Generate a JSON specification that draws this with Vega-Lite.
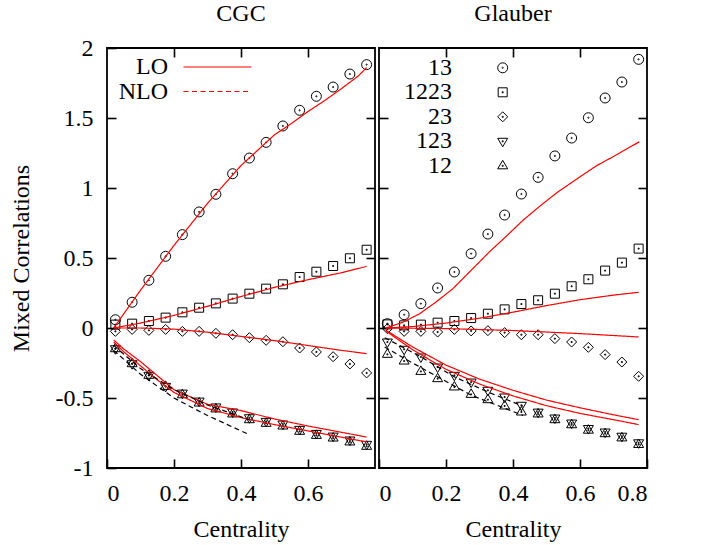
{
  "$schema": "https://vega.github.io/schema/vega-lite/v6.json",
  "background": "white",
  "padding": {"left": 8, "top": 1, "right": 5, "bottom": 0},
  "spacing": 0,
  "config": {
    "font": "Liberation Serif",
    "view": {"stroke": "black", "strokeWidth": 1.8},
    "axis": {
      "grid": false, "domain": false, "ticks": true, "tickColor": "black", "tickOpacity": 1, "tickWidth": 1.6, "tickSize": 9, "zindex": 1,
      "labelFont": "Liberation Serif", "labelFontSize": 24, "labelColor": "black",
      "titleFont": "Liberation Serif", "titleFontSize": 24, "titleFontWeight": "normal", "titleColor": "black"
    },
    "legend": {"labelFont": "Liberation Serif", "labelFontSize": 24, "labelColor": "black"},
    "title": {"font": "Liberation Serif", "fontSize": 24, "fontWeight": "normal", "color": "black"}
  },
  "datasets": {
    "cgcP": [
      {"x":0.025,"y":0.059,"s":"13"},{"x":0.075,"y":0.184,"s":"13"},{"x":0.125,"y":0.341,"s":"13"},{"x":0.175,"y":0.512,"s":"13"},
      {"x":0.225,"y":0.667,"s":"13"},{"x":0.275,"y":0.829,"s":"13"},{"x":0.325,"y":0.955,"s":"13"},{"x":0.375,"y":1.102,"s":"13"},
      {"x":0.425,"y":1.214,"s":"13"},{"x":0.475,"y":1.326,"s":"13"},{"x":0.525,"y":1.443,"s":"13"},{"x":0.575,"y":1.555,"s":"13"},
      {"x":0.625,"y":1.655,"s":"13"},{"x":0.675,"y":1.721,"s":"13"},{"x":0.725,"y":1.814,"s":"13"},{"x":0.775,"y":1.881,"s":"13"},
      {"x":0.025,"y":0.024,"s":"1223"},{"x":0.075,"y":0.031,"s":"1223"},{"x":0.125,"y":0.05,"s":"1223"},{"x":0.175,"y":0.074,"s":"1223"},
      {"x":0.225,"y":0.112,"s":"1223"},{"x":0.275,"y":0.145,"s":"1223"},{"x":0.325,"y":0.176,"s":"1223"},{"x":0.375,"y":0.21,"s":"1223"},
      {"x":0.425,"y":0.245,"s":"1223"},{"x":0.475,"y":0.281,"s":"1223"},{"x":0.525,"y":0.312,"s":"1223"},{"x":0.575,"y":0.364,"s":"1223"},
      {"x":0.625,"y":0.402,"s":"1223"},{"x":0.675,"y":0.443,"s":"1223"},{"x":0.725,"y":0.498,"s":"1223"},{"x":0.775,"y":0.559,"s":"1223"},
      {"x":0.025,"y":-0.024,"s":"23"},{"x":0.075,"y":-0.01,"s":"23"},{"x":0.125,"y":-0.017,"s":"23"},{"x":0.175,"y":-0.01,"s":"23"},
      {"x":0.225,"y":-0.024,"s":"23"},{"x":0.275,"y":-0.024,"s":"23"},{"x":0.325,"y":-0.038,"s":"23"},{"x":0.375,"y":-0.048,"s":"23"},
      {"x":0.425,"y":-0.069,"s":"23"},{"x":0.475,"y":-0.088,"s":"23"},{"x":0.525,"y":-0.098,"s":"23"},{"x":0.575,"y":-0.143,"s":"23"},
      {"x":0.625,"y":-0.171,"s":"23"},{"x":0.675,"y":-0.205,"s":"23"},{"x":0.725,"y":-0.257,"s":"23"},{"x":0.775,"y":-0.321,"s":"23"},
      {"x":0.025,"y":-0.148,"s":"123"},{"x":0.075,"y":-0.255,"s":"123"},{"x":0.125,"y":-0.338,"s":"123"},{"x":0.175,"y":-0.417,"s":"123"},
      {"x":0.225,"y":-0.465,"s":"123"},{"x":0.275,"y":-0.522,"s":"123"},{"x":0.325,"y":-0.564,"s":"123"},{"x":0.375,"y":-0.6,"s":"123"},
      {"x":0.425,"y":-0.641,"s":"123"},{"x":0.475,"y":-0.667,"s":"123"},{"x":0.525,"y":-0.686,"s":"123"},{"x":0.575,"y":-0.724,"s":"123"},
      {"x":0.625,"y":-0.753,"s":"123"},{"x":0.675,"y":-0.772,"s":"123"},{"x":0.725,"y":-0.8,"s":"123"},{"x":0.775,"y":-0.831,"s":"123"},
      {"x":0.025,"y":-0.148,"s":"12"},{"x":0.075,"y":-0.255,"s":"12"},{"x":0.125,"y":-0.338,"s":"12"},{"x":0.175,"y":-0.417,"s":"12"},
      {"x":0.225,"y":-0.477,"s":"12"},{"x":0.275,"y":-0.536,"s":"12"},{"x":0.325,"y":-0.578,"s":"12"},{"x":0.375,"y":-0.614,"s":"12"},
      {"x":0.425,"y":-0.655,"s":"12"},{"x":0.475,"y":-0.681,"s":"12"},{"x":0.525,"y":-0.7,"s":"12"},{"x":0.575,"y":-0.738,"s":"12"},
      {"x":0.625,"y":-0.767,"s":"12"},{"x":0.675,"y":-0.786,"s":"12"},{"x":0.725,"y":-0.814,"s":"12"},{"x":0.775,"y":-0.845,"s":"12"}
    ],
    "cgcL": [
      {"x":0.02,"y":0,"s":"13","o":"LO"},{"x":0.1,"y":0.27,"s":"13","o":"LO"},{"x":0.2,"y":0.59,"s":"13","o":"LO"},{"x":0.3,"y":0.89,"s":"13","o":"LO"},
      {"x":0.4,"y":1.16,"s":"13","o":"LO"},{"x":0.5,"y":1.38,"s":"13","o":"LO"},{"x":0.55,"y":1.46,"s":"13","o":"LO"},{"x":0.6,"y":1.546,"s":"13","o":"LO"},
      {"x":0.65,"y":1.625,"s":"13","o":"LO"},{"x":0.7,"y":1.71,"s":"13","o":"LO"},{"x":0.75,"y":1.8,"s":"13","o":"LO"},{"x":0.775,"y":1.86,"s":"13","o":"LO"},
      {"x":0.02,"y":0,"s":"1223","o":"LO"},{"x":0.1,"y":0.035,"s":"1223","o":"LO"},{"x":0.2,"y":0.09,"s":"1223","o":"LO"},{"x":0.3,"y":0.155,"s":"1223","o":"LO"},
      {"x":0.4,"y":0.225,"s":"1223","o":"LO"},{"x":0.5,"y":0.29,"s":"1223","o":"LO"},{"x":0.6,"y":0.345,"s":"1223","o":"LO"},{"x":0.7,"y":0.395,"s":"1223","o":"LO"},
      {"x":0.775,"y":0.44,"s":"1223","o":"LO"},
      {"x":0.02,"y":0,"s":"23","o":"LO"},{"x":0.1,"y":0,"s":"23","o":"LO"},{"x":0.2,"y":-0.008,"s":"23","o":"LO"},{"x":0.3,"y":-0.03,"s":"23","o":"LO"},
      {"x":0.4,"y":-0.06,"s":"23","o":"LO"},{"x":0.5,"y":-0.09,"s":"23","o":"LO"},{"x":0.6,"y":-0.125,"s":"23","o":"LO"},{"x":0.7,"y":-0.16,"s":"23","o":"LO"},
      {"x":0.775,"y":-0.183,"s":"23","o":"LO"},
      {"x":0.02,"y":-0.085,"s":"123","o":"LO"},{"x":0.05,"y":-0.15,"s":"123","o":"LO"},{"x":0.1,"y":-0.24,"s":"123","o":"LO"},{"x":0.15,"y":-0.34,"s":"123","o":"LO"},
      {"x":0.2,"y":-0.44,"s":"123","o":"LO"},{"x":0.3,"y":-0.545,"s":"123","o":"LO"},{"x":0.4,"y":-0.59,"s":"123","o":"LO"},{"x":0.5,"y":-0.65,"s":"123","o":"LO"},
      {"x":0.6,"y":-0.7,"s":"123","o":"LO"},{"x":0.7,"y":-0.745,"s":"123","o":"LO"},{"x":0.775,"y":-0.779,"s":"123","o":"LO"},
      {"x":0.02,"y":-0.1,"s":"12","o":"LO"},{"x":0.05,"y":-0.17,"s":"12","o":"LO"},{"x":0.1,"y":-0.27,"s":"12","o":"LO"},{"x":0.15,"y":-0.37,"s":"12","o":"LO"},
      {"x":0.2,"y":-0.46,"s":"12","o":"LO"},{"x":0.3,"y":-0.575,"s":"12","o":"LO"},{"x":0.4,"y":-0.64,"s":"12","o":"LO"},{"x":0.5,"y":-0.69,"s":"12","o":"LO"},
      {"x":0.6,"y":-0.735,"s":"12","o":"LO"},{"x":0.7,"y":-0.78,"s":"12","o":"LO"},{"x":0.775,"y":-0.814,"s":"12","o":"LO"},
      {"x":0.02,"y":-0.124,"s":"123","o":"NLO"},{"x":0.1,"y":-0.29,"s":"123","o":"NLO"},{"x":0.2,"y":-0.44,"s":"123","o":"NLO"},{"x":0.3,"y":-0.55,"s":"123","o":"NLO"},
      {"x":0.425,"y":-0.655,"s":"123","o":"NLO"},
      {"x":0.02,"y":-0.16,"s":"12","o":"NLO"},{"x":0.1,"y":-0.33,"s":"12","o":"NLO"},{"x":0.2,"y":-0.5,"s":"12","o":"NLO"},{"x":0.3,"y":-0.625,"s":"12","o":"NLO"},
      {"x":0.425,"y":-0.762,"s":"12","o":"NLO"}
    ],
    "glaP": [
      {"x":0.025,"y":0.031,"s":"13"},{"x":0.075,"y":0.095,"s":"13"},{"x":0.125,"y":0.174,"s":"13"},{"x":0.175,"y":0.286,"s":"13"},
      {"x":0.225,"y":0.4,"s":"13"},{"x":0.275,"y":0.531,"s":"13"},{"x":0.325,"y":0.671,"s":"13"},{"x":0.375,"y":0.807,"s":"13"},
      {"x":0.425,"y":0.957,"s":"13"},{"x":0.475,"y":1.076,"s":"13"},{"x":0.525,"y":1.229,"s":"13"},{"x":0.575,"y":1.357,"s":"13"},
      {"x":0.625,"y":1.502,"s":"13"},{"x":0.675,"y":1.643,"s":"13"},{"x":0.725,"y":1.757,"s":"13"},{"x":0.775,"y":1.919,"s":"13"},
      {"x":0.025,"y":0.026,"s":"1223"},{"x":0.075,"y":0.019,"s":"1223"},{"x":0.125,"y":0.024,"s":"1223"},{"x":0.175,"y":0.038,"s":"1223"},
      {"x":0.225,"y":0.05,"s":"1223"},{"x":0.275,"y":0.071,"s":"1223"},{"x":0.325,"y":0.102,"s":"1223"},{"x":0.375,"y":0.133,"s":"1223"},
      {"x":0.425,"y":0.171,"s":"1223"},{"x":0.475,"y":0.198,"s":"1223"},{"x":0.525,"y":0.245,"s":"1223"},{"x":0.575,"y":0.298,"s":"1223"},
      {"x":0.625,"y":0.348,"s":"1223"},{"x":0.675,"y":0.41,"s":"1223"},{"x":0.725,"y":0.467,"s":"1223"},{"x":0.775,"y":0.567,"s":"1223"},
      {"x":0.025,"y":-0.005,"s":"23"},{"x":0.075,"y":-0.024,"s":"23"},{"x":0.125,"y":-0.024,"s":"23"},{"x":0.175,"y":-0.029,"s":"23"},
      {"x":0.225,"y":-0.01,"s":"23"},{"x":0.275,"y":-0.021,"s":"23"},{"x":0.325,"y":-0.019,"s":"23"},{"x":0.375,"y":-0.033,"s":"23"},
      {"x":0.425,"y":-0.048,"s":"23"},{"x":0.475,"y":-0.048,"s":"23"},{"x":0.525,"y":-0.076,"s":"23"},{"x":0.575,"y":-0.1,"s":"23"},
      {"x":0.625,"y":-0.138,"s":"23"},{"x":0.675,"y":-0.19,"s":"23"},{"x":0.725,"y":-0.243,"s":"23"},{"x":0.775,"y":-0.345,"s":"23"},
      {"x":0.025,"y":-0.1,"s":"123"},{"x":0.075,"y":-0.152,"s":"123"},{"x":0.125,"y":-0.207,"s":"123"},{"x":0.175,"y":-0.279,"s":"123"},
      {"x":0.225,"y":-0.338,"s":"123"},{"x":0.275,"y":-0.386,"s":"123"},{"x":0.325,"y":-0.445,"s":"123"},{"x":0.375,"y":-0.493,"s":"123"},
      {"x":0.425,"y":-0.552,"s":"123"},{"x":0.475,"y":-0.601,"s":"123"},{"x":0.525,"y":-0.643,"s":"123"},{"x":0.575,"y":-0.679,"s":"123"},
      {"x":0.625,"y":-0.718,"s":"123"},{"x":0.675,"y":-0.743,"s":"123"},{"x":0.725,"y":-0.773,"s":"123"},{"x":0.775,"y":-0.82,"s":"123"},
      {"x":0.025,"y":-0.188,"s":"12"},{"x":0.075,"y":-0.236,"s":"12"},{"x":0.125,"y":-0.31,"s":"12"},{"x":0.175,"y":-0.362,"s":"12"},
      {"x":0.225,"y":-0.421,"s":"12"},{"x":0.275,"y":-0.474,"s":"12"},{"x":0.325,"y":-0.512,"s":"12"},{"x":0.375,"y":-0.557,"s":"12"},
      {"x":0.425,"y":-0.6,"s":"12"},{"x":0.475,"y":-0.614,"s":"12"},{"x":0.525,"y":-0.655,"s":"12"},{"x":0.575,"y":-0.691,"s":"12"},
      {"x":0.625,"y":-0.73,"s":"12"},{"x":0.675,"y":-0.755,"s":"12"},{"x":0.725,"y":-0.785,"s":"12"},{"x":0.775,"y":-0.832,"s":"12"}
    ],
    "glaL": [
      {"x":0.02,"y":0,"s":"13","o":"LO"},{"x":0.07,"y":0.04,"s":"13","o":"LO"},{"x":0.12,"y":0.1,"s":"13","o":"LO"},{"x":0.17,"y":0.185,"s":"13","o":"LO"},
      {"x":0.22,"y":0.28,"s":"13","o":"LO"},{"x":0.27,"y":0.4,"s":"13","o":"LO"},{"x":0.33,"y":0.545,"s":"13","o":"LO"},{"x":0.38,"y":0.655,"s":"13","o":"LO"},
      {"x":0.43,"y":0.77,"s":"13","o":"LO"},{"x":0.48,"y":0.87,"s":"13","o":"LO"},{"x":0.53,"y":0.965,"s":"13","o":"LO"},{"x":0.6,"y":1.08,"s":"13","o":"LO"},
      {"x":0.65,"y":1.16,"s":"13","o":"LO"},{"x":0.7,"y":1.225,"s":"13","o":"LO"},{"x":0.777,"y":1.33,"s":"13","o":"LO"},
      {"x":0.02,"y":0,"s":"1223","o":"LO"},{"x":0.1,"y":0.01,"s":"1223","o":"LO"},{"x":0.2,"y":0.035,"s":"1223","o":"LO"},{"x":0.3,"y":0.07,"s":"1223","o":"LO"},
      {"x":0.4,"y":0.113,"s":"1223","o":"LO"},{"x":0.5,"y":0.16,"s":"1223","o":"LO"},{"x":0.6,"y":0.202,"s":"1223","o":"LO"},{"x":0.7,"y":0.235,"s":"1223","o":"LO"},
      {"x":0.775,"y":0.255,"s":"1223","o":"LO"},
      {"x":0.02,"y":0,"s":"23","o":"LO"},{"x":0.2,"y":-0.004,"s":"23","o":"LO"},{"x":0.4,"y":-0.018,"s":"23","o":"LO"},{"x":0.6,"y":-0.04,"s":"23","o":"LO"},
      {"x":0.775,"y":-0.064,"s":"23","o":"LO"},
      {"x":0.02,"y":-0.015,"s":"123","o":"LO"},{"x":0.1,"y":-0.135,"s":"123","o":"LO"},{"x":0.2,"y":-0.265,"s":"123","o":"LO"},{"x":0.3,"y":-0.365,"s":"123","o":"LO"},
      {"x":0.4,"y":-0.445,"s":"123","o":"LO"},{"x":0.5,"y":-0.515,"s":"123","o":"LO"},{"x":0.6,"y":-0.57,"s":"123","o":"LO"},{"x":0.7,"y":-0.62,"s":"123","o":"LO"},
      {"x":0.775,"y":-0.655,"s":"123","o":"LO"},
      {"x":0.02,"y":-0.02,"s":"12","o":"LO"},{"x":0.1,"y":-0.155,"s":"12","o":"LO"},{"x":0.2,"y":-0.295,"s":"12","o":"LO"},{"x":0.3,"y":-0.4,"s":"12","o":"LO"},
      {"x":0.4,"y":-0.485,"s":"12","o":"LO"},{"x":0.5,"y":-0.555,"s":"12","o":"LO"},{"x":0.6,"y":-0.61,"s":"12","o":"LO"},{"x":0.7,"y":-0.655,"s":"12","o":"LO"},
      {"x":0.775,"y":-0.69,"s":"12","o":"LO"},
      {"x":0.017,"y":-0.069,"s":"123","o":"NLO"},{"x":0.126,"y":-0.207,"s":"123","o":"NLO"},{"x":0.226,"y":-0.35,"s":"123","o":"NLO"},{"x":0.325,"y":-0.457,"s":"123","o":"NLO"},
      {"x":0.43,"y":-0.559,"s":"123","o":"NLO"},
      {"x":0.017,"y":-0.136,"s":"12","o":"NLO"},{"x":0.077,"y":-0.219,"s":"12","o":"NLO"},{"x":0.176,"y":-0.35,"s":"12","o":"NLO"},{"x":0.276,"y":-0.481,"s":"12","o":"NLO"},
      {"x":0.43,"y":-0.624,"s":"12","o":"NLO"}
    ]
  },
  "resolve": {
    "scale": {"shape": "independent", "strokeDash": "independent"},
    "legend": {"shape": "independent", "strokeDash": "independent"}
  },
  "hconcat": [
    {
      "width": 268, "height": 420,
      "title": {"text": "CGC", "offset": 10},
      "layer": [
        {
          "data": {"name": "cgcP"},
          "mark": {"type": "point", "filled": false, "stroke": "black", "strokeWidth": 1, "size": 100, "opacity": 1},
          "encoding": {
            "x": {"field": "x", "type": "quantitative", "scale": {"domain": [0, 0.8], "nice": false, "zero": false},
              "axis": {"orient": "bottom", "offset": -9, "values": [0, 0.2, 0.4, 0.6], "labelExpr": "toString(datum.value)", "title": "Centrality", "labelPadding": 13, "titlePadding": 12}},
            "y": {"field": "y", "type": "quantitative", "scale": {"domain": [-1, 2], "nice": false, "zero": false},
              "axis": {"orient": "left", "offset": -9, "values": [-1, -0.5, 0, 0.5, 1, 1.5, 2], "labelExpr": "toString(datum.value)", "title": "Mixed Correlations", "labelPadding": 14, "titlePadding": 22}},
            "shape": {"field": "s", "type": "nominal",
              "scale": {"domain": ["13", "1223", "23", "123", "12"],
                "range": [
                  "M-1,0A1,1,0,1,1,1,0A1,1,0,1,1,-1,0Z M-0.12,0A0.12,0.12,0,1,1,0.12,0A0.12,0.12,0,1,1,-0.12,0Z",
                  "M-0.9,-0.9H0.9V0.9H-0.9Z M-0.1,-0.1H0.1V0.1H-0.1Z",
                  "M0,-1L1,0L0,1L-1,0Z M-0.1,-0.1H0.1V0.1H-0.1Z",
                  "M-1,-0.6L1,-0.6L0,1.1Z M-0.1,-0.1H0.1V0.1H-0.1Z",
                  "M-1,0.6L1,0.6L0,-1.1Z M-0.1,-0.1H0.1V0.1H-0.1Z"
                ]},
              "legend": null}
          }
        },
        {
          "data": {"name": "cgcL"},
          "mark": {"type": "line", "strokeWidth": 1.2},
          "encoding": {
            "x": {"field": "x", "type": "quantitative", "axis": {"orient": "top", "offset": -9, "values": [0.2, 0.4, 0.6], "labels": false, "title": null}},
            "y": {"field": "y", "type": "quantitative", "axis": {"orient": "right", "offset": -9, "values": [-0.5, 0, 0.5, 1, 1.5], "labels": false, "title": null}},
            "detail": {"field": "s"},
            "color": {"condition": {"test": "datum.o === 'NLO'", "value": "#000000"}, "value": "#ff0000"},
            "strokeDash": {"field": "o", "type": "nominal", "scale": {"domain": ["LO", "NLO"], "range": [[1, 0], [5, 3.5]]},
              "legend": {"orient": "none", "legendX": 98.5, "legendY": 7, "title": null, "symbolType": "M-5,0H5", "symbolSize": 185, "symbolStrokeWidth": 1.2,
                "labelAlign": "right", "labelOffset": -61.5, "rowPadding": 0.5, "padding": 0,
                "encode": {"symbols": {"update": {"stroke": {"signal": "datum.value === 'LO' ? '#ff0000' : '#000000'"}}}}}}
          }
        }
      ],
      "resolve": {"axis": {"x": "independent", "y": "independent"}}
    },
    {
      "width": 268, "height": 420,
      "title": {"text": "Glauber", "offset": 21},
      "layer": [
        {
          "data": {"name": "glaP"},
          "mark": {"type": "point", "filled": false, "stroke": "black", "strokeWidth": 1, "size": 100, "opacity": 1},
          "encoding": {
            "x": {"field": "x", "type": "quantitative", "scale": {"domain": [0, 0.8], "nice": false, "zero": false},
              "axis": {"orient": "bottom", "offset": -9, "values": [0, 0.2, 0.4, 0.6, 0.8], "labelExpr": "toString(datum.value)", "title": "Centrality", "labelPadding": 13, "titlePadding": 12}},
            "y": {"field": "y", "type": "quantitative", "scale": {"domain": [-1, 2], "nice": false, "zero": false},
              "axis": {"orient": "left", "offset": -9, "values": [-0.5, 0, 0.5, 1, 1.5], "labels": false, "title": null}},
            "shape": {"field": "s", "type": "nominal",
              "scale": {"domain": ["13", "1223", "23", "123", "12"],
                "range": [
                  "M-1,0A1,1,0,1,1,1,0A1,1,0,1,1,-1,0Z M-0.12,0A0.12,0.12,0,1,1,0.12,0A0.12,0.12,0,1,1,-0.12,0Z",
                  "M-0.9,-0.9H0.9V0.9H-0.9Z M-0.1,-0.1H0.1V0.1H-0.1Z",
                  "M0,-1L1,0L0,1L-1,0Z M-0.1,-0.1H0.1V0.1H-0.1Z",
                  "M-1,-0.6L1,-0.6L0,1.1Z M-0.1,-0.1H0.1V0.1H-0.1Z",
                  "M-1,0.6L1,0.6L0,-1.1Z M-0.1,-0.1H0.1V0.1H-0.1Z"
                ]},
              "legend": {"orient": "none", "legendX": 111.7, "legendY": 7.8, "title": null, "symbolSize": 100, "symbolStrokeColor": "black", "symbolStrokeWidth": 1,
                "symbolFillColor": "transparent", "labelAlign": "right", "labelOffset": -62.7, "rowPadding": 0.5, "padding": 0}}
          }
        },
        {
          "data": {"name": "glaL"},
          "mark": {"type": "line", "strokeWidth": 1.2},
          "encoding": {
            "x": {"field": "x", "type": "quantitative", "axis": {"orient": "top", "offset": -9, "values": [0.2, 0.4, 0.6], "labels": false, "title": null}},
            "y": {"field": "y", "type": "quantitative", "axis": {"orient": "right", "offset": -9, "values": [-0.5, 0, 0.5, 1, 1.5], "labels": false, "title": null}},
            "detail": {"field": "s"},
            "color": {"condition": {"test": "datum.o === 'NLO'", "value": "#000000"}, "value": "#ff0000"},
            "strokeDash": {"field": "o", "type": "nominal", "scale": {"domain": ["LO", "NLO"], "range": [[1, 0], [5, 3.5]]}, "legend": null}
          }
        }
      ],
      "resolve": {"axis": {"x": "independent", "y": "independent"}}
    }
  ]
}
